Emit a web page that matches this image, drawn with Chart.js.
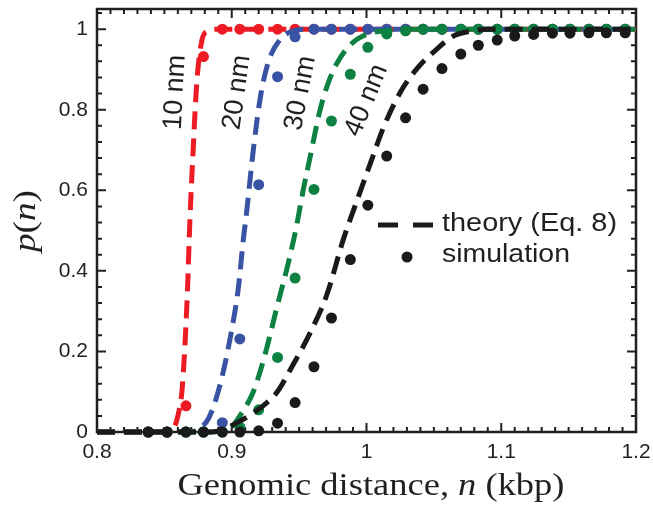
<!DOCTYPE html>
<html>
<head>
<meta charset="utf-8">
<script src="https://cdn.jsdelivr.net/npm/chart.js@4.4.1/dist/chart.umd.min.js"></script>
<style>
  html, body { margin: 0; padding: 0; background: #fff; }
  canvas { display: block; }
</style>
</head>
<body>
<canvas id="pn" width="653" height="505"></canvas>
<script>
// genomic distance (kbp) where the simulation was sampled
const simN = [0.838, 0.852, 0.866, 0.879, 0.893, 0.906, 0.920, 0.934, 0.947, 0.961, 0.974, 0.988, 1.001,
              1.015, 1.029, 1.042, 1.056, 1.070, 1.083, 1.097, 1.110, 1.124, 1.138, 1.151, 1.165, 1.178, 1.192];

// simulated p(n), one array per capture radius
const sim10 = [0, 0, 0.065, 0.932, 1, 1, 1, 1, 1, 1, 1, 1, 1, 1, 1, 1, 1, 1, 1, 1, 1, 1, 1, 1, 1, 1, 1];
const sim20 = [0, 0, 0, 0, 0.023, 0.231, 0.614, 0.882, 0.981, 1, 1, 1, 1, 1, 1, 1, 1, 1, 1, 1, 1, 1, 1, 1, 1, 1, 1];
const sim30 = [0, 0, 0, 0, 0, 0.012, 0.055, 0.185, 0.382, 0.602, 0.772, 0.888, 0.955, 0.988, 0.996, 1, 1, 1, 1, 1, 1, 1, 1, 1, 1, 1, 1];
const sim40 = [0, 0, 0, 0, 0, 0, 0.003, 0.022, 0.073, 0.162, 0.283, 0.428, 0.563, 0.685, 0.780, 0.851, 0.902,
               0.938, 0.960, 0.973, 0.983, 0.987, 0.990, 0.990, 0.991, 0.991, 0.991];

// theory curves (Eq. 8)
const theory10N = [0.80, 0.850, 0.857, 0.860, 0.863, 0.865, 0.867, 0.869, 0.8715, 0.874, 0.8777, 0.882, 0.888, 1.20];
const theory10P = [0,    0,     0.01,  0.04,  0.10,  0.20,  0.34,  0.53,  0.71,   0.865, 0.97,   0.995, 1,     1];
const theory20N = [0.80, 0.870, 0.8765, 0.883, 0.891, 0.900, 0.905, 0.9086, 0.911, 0.916, 0.921, 0.927, 0.936, 0.946, 0.955, 1.20];
const theory20P = [0,    0,     0.01,   0.035, 0.113, 0.254, 0.36,  0.478,  0.545, 0.70,  0.826, 0.917, 0.975, 0.996, 1,     1];
const theory30N = [0.80, 0.885, 0.895, 0.901, 0.907, 0.916, 0.925, 0.933, 0.942, 0.948, 0.953, 0.958, 0.9656, 0.972, 0.978, 0.985, 0.993, 1.003, 1.020, 1.030, 1.20];
const theory30P = [0,    0,     0.006, 0.017, 0.045, 0.10,  0.196, 0.303, 0.42,  0.51,  0.60,  0.68,  0.80,   0.87,  0.915, 0.95,  0.975, 0.99,  0.998, 1,     1];
const theory40N = [0.80, 0.885, 0.895, 0.905, 0.915, 0.925, 0.933, 0.946, 0.958, 0.9705, 0.983, 0.993, 1.003, 1.0125, 1.025, 1.037, 1.052, 1.0645, 1.079, 1.090, 1.20];
const theory40P = [0,    0,     0.008, 0.025, 0.045, 0.07,  0.096, 0.17,  0.245, 0.34,   0.48,  0.575, 0.668, 0.755,  0.843, 0.90,  0.95,  0.983,  0.996, 1,     1];

const xTicks = [0.8, 0.9, 1.0, 1.1, 1.2];
const yTicks = [0, 0.2, 0.4, 0.6, 0.8, 1.0];

const seriesLabels = ['10 nm', '20 nm', '30 nm', '40 nm'];
const labelN = [0.858, 0.904, 0.951, 1.000];
const labelP = [0.843, 0.843, 0.841, 0.823];
const labelAngle = [-87, -82, -79, -68];

const legendLabels = ['theory (Eq. 8)', 'simulation'];

const ink = '#231f20';
const red = '#ed1c24', blue = '#3953a4', green = '#0c8141', black = '#1a1a1a';

function toPoints(n, p) {
    return n.map((v, i) => ({ x: v, y: p[i] }));
}

function theorySet(n, p, color, order) {
    return {
        type: 'line',
        data: toPoints(n, p),
        borderColor: color,
        borderWidth: 5,
        borderDash: [18, 9],
        borderCapStyle: 'butt',
        pointRadius: 0,
        fill: false,
        cubicInterpolationMode: 'monotone',
        clip: false,
        order: order
    };
}

function simSet(p, color, order) {
    return {
        type: 'scatter',
        data: toPoints(simN, p),
        backgroundColor: color,
        borderColor: color,
        borderWidth: 0,
        pointRadius: 5.5,
        showLine: false,
        clip: false,
        order: order
    };
}

// writes a run of text pieces (some italic) centred on cx,cy, stretched to width if given
function drawParts(ctx, parts, size, family, cx, cy, width, angle) {
    ctx.save();
    ctx.translate(cx, cy);
    ctx.rotate(angle * Math.PI / 180);
    let total = 0;
    parts.forEach(p => {
        ctx.font = (p.italic ? 'italic ' : '') + size + 'px ' + family;
        total += ctx.measureText(p.text).width;
    });
    if (width) ctx.scale(width / total, 1);
    ctx.fillStyle = ink;
    ctx.textAlign = 'left';
    ctx.textBaseline = 'middle';
    let x = -total / 2;
    parts.forEach(p => {
        ctx.font = (p.italic ? 'italic ' : '') + size + 'px ' + family;
        ctx.fillText(p.text, x, 0);
        x += ctx.measureText(p.text).width;
    });
    ctx.restore();
}

// box around the plot with inward major/minor ticks on all four sides
const framePlugin = {
    id: 'frame',
    beforeDatasetsDraw(chart) {
        const { ctx, chartArea: a, scales: { x, y } } = chart;
        ctx.save();
        ctx.strokeStyle = ink;
        ctx.lineWidth = 2;
        ctx.beginPath();
        for (let i = 0; i <= 40; i++) {
            const px = x.getPixelForValue(0.8 + i * 0.01);
            const len = i % 10 === 0 ? 9 : 5;
            ctx.moveTo(px, a.bottom); ctx.lineTo(px, a.bottom - len);
            ctx.moveTo(px, a.top); ctx.lineTo(px, a.top + len);
        }
        for (let i = 0; i <= 26; i++) {
            const py = y.getPixelForValue(i * 0.04);
            const len = i % 5 === 0 ? 9 : 5;
            ctx.moveTo(a.left, py); ctx.lineTo(a.left + len, py);
            ctx.moveTo(a.right, py); ctx.lineTo(a.right - len, py);
        }
        ctx.stroke();
        ctx.lineWidth = 2.5;
        ctx.strokeRect(a.left, a.top, a.right - a.left, a.bottom - a.top);
        ctx.restore();
    }
};

// curve labels, legend and axis titles
const textPlugin = {
    id: 'texts',
    afterDatasetsDraw(chart) {
        const { ctx, scales: { x, y } } = chart;

        seriesLabels.forEach((t, i) => {
            drawParts(ctx, [{ text: t }], 27, '"Liberation Sans", Arial, sans-serif',
                x.getPixelForValue(labelN[i]), y.getPixelForValue(labelP[i]), null, labelAngle[i]);
        });

        // legend
        ctx.save();
        ctx.strokeStyle = black;
        ctx.lineWidth = 5;
        ctx.setLineDash([20, 15]);
        ctx.beginPath();
        ctx.moveTo(378, 225); ctx.lineTo(433, 225);
        ctx.stroke();
        ctx.setLineDash([]);
        ctx.fillStyle = black;
        ctx.beginPath();
        ctx.arc(407, 257, 5.5, 0, Math.PI * 2);
        ctx.fill();
        ctx.restore();
        drawParts(ctx, [{ text: legendLabels[0] }], 25, '"Liberation Sans", Arial, sans-serif', 442 + 175 / 2, 224, 175, 0);
        drawParts(ctx, [{ text: legendLabels[1] }], 25, '"Liberation Sans", Arial, sans-serif', 442 + 128 / 2, 255, 128, 0);

        // axis titles
        const serif = '"Liberation Serif", "Times New Roman", serif';
        drawParts(ctx, [{ text: 'Genomic distance, ' }, { text: 'n', italic: true }, { text: ' (kbp)' }],
            31, serif, 371, 487, 387, 0);
        drawParts(ctx, [{ text: 'p', italic: true }, { text: '(' }, { text: 'n', italic: true }, { text: ')' }],
            31, serif, 27, 221, 62, -90);
    }
};

const tickFont = { family: '"Liberation Sans", Arial, sans-serif', size: 21 };
const fmt = v => String(+v.toFixed(1));

new Chart(document.getElementById('pn').getContext('2d'), {
    type: 'scatter',
    data: {
        datasets: [
            simSet(sim40, black, 1),
            theorySet(theory40N, theory40P, black, 2),
            simSet(sim30, green, 3),
            theorySet(theory30N, theory30P, green, 4),
            simSet(sim20, blue, 5),
            theorySet(theory20N, theory20P, blue, 6),
            simSet(sim10, red, 7),
            theorySet(theory10N, theory10P, red, 8)
        ]
    },
    options: {
        responsive: false,
        animation: false,
        layout: { padding: { top: 9, right: 17, left: 0, bottom: 0 } },
        plugins: { legend: { display: false }, tooltip: { enabled: false } },
        scales: {
            x: {
                type: 'linear',
                min: 0.8,
                max: 1.2,
                afterBuildTicks: s => { s.ticks = xTicks.map(v => ({ value: v })); },
                afterFit: s => { s.height = 73; s.paddingLeft = 0; s.paddingRight = 0; },
                grid: { display: false, drawTicks: false },
                border: { display: false },
                ticks: { font: tickFont, color: ink, padding: 8, maxRotation: 0, callback: fmt }
            },
            y: {
                type: 'linear',
                min: 0,
                max: 1.05,
                afterBuildTicks: s => { s.ticks = yTicks.map(v => ({ value: v })); },
                afterFit: s => { s.width = 97; s.paddingTop = 0; s.paddingBottom = 0; },
                grid: { display: false, drawTicks: false },
                border: { display: false },
                ticks: { font: tickFont, color: ink, padding: 9, callback: fmt }
            }
        }
    },
    plugins: [framePlugin, textPlugin]
});
</script>
</body>
</html>
